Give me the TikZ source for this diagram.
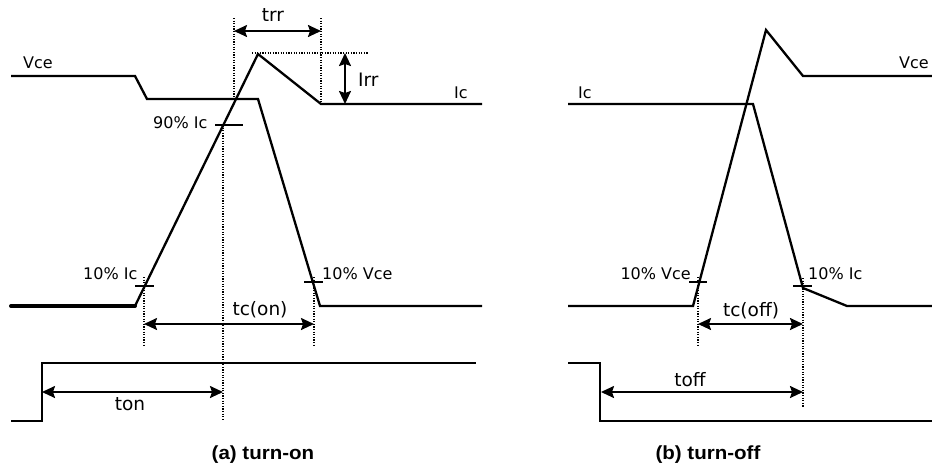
\documentclass[tikz,border=0pt]{standalone}
\usepackage{fontspec}
\setmainfont{DejaVu Sans}
\newfontfamily\capfont[FakeStretch=1.08]{Liberation Sans}
\usetikzlibrary{arrows.meta}
\begin{document}
\begin{tikzpicture}[x=1pt,y=-1pt,line join=miter,
  wave/.style={line width=2.3pt},
  thickwave/.style={line width=4pt,line cap=round},
  guide/.style={line width=1.1pt,dash pattern=on 1.2pt off 1.4pt},
  tickmark/.style={line width=1.3pt},
  dim/.style={line width=2pt,{Stealth[length=13pt,width=12pt,inset=2pt]}-{Stealth[length=13pt,width=12pt,inset=2pt]}},
  lbl/.style={inner sep=0pt,font=\fontsize{16}{19}\selectfont},
  biglbl/.style={inner sep=0pt,font=\fontsize{18.5}{22}\selectfont},
  captionlbl/.style={inner sep=0pt,font=\capfont\fontsize{19}{22}\selectfont\bfseries}]
\useasboundingbox (0,0) rectangle (932,467);

% ===================== (a) turn-on =====================
% Vce waveform
\coordinate (va1) at (11,76);
\coordinate (va2) at (135,76);
\coordinate (va3) at (147,99);
\coordinate (va4) at (258,99);
\coordinate (va5) at (320,306);
\coordinate (va6) at (482,306);
\draw[wave] (va1) -- (va2) -- (va3) -- (va4) -- (va5) -- (va6);
% Ic waveform
\coordinate (ia0) at (11,306);
\coordinate (ia1) at (135,306);
\coordinate (iapk) at (258,54);
\coordinate (ia3) at (321,104);
\coordinate (ia4) at (482,104);
\draw[thickwave] (ia0) -- (ia1);
\draw[wave] (ia1) -- (iapk) -- (ia3) -- (ia4);
% gate
\coordinate (ga0) at (11,421);
\coordinate (ga1) at (42,421);
\coordinate (ga2) at (42,363);
\coordinate (ga3) at (476,363);
\draw[wave] (ga0) -- (ga1) -- (ga2) -- (ga3);

% guides
\coordinate (ta1) at (234,18);  \coordinate (ta1b) at (234,99);
\coordinate (ta2) at (321,18);  \coordinate (ta2b) at (321,104);
\draw[guide] (ta1) -- (ta1b);
\draw[guide] (ta2) -- (ta2b);
\coordinate (pkl) at (252,53); \coordinate (pkr) at (368,53);
\draw[guide] (pkl) -- (pkr);
\coordinate (n90t) at (223,125); \coordinate (n90b) at (223,419);
\draw[guide] (n90t) -- (n90b);
\coordinate (a10t) at (144,277); \coordinate (a10b) at (144,347);
\draw[guide] (a10t) -- (a10b);
\coordinate (v10t) at (314,277); \coordinate (v10b) at (314,347);
\draw[guide] (v10t) -- (v10b);

% tick marks
\coordinate (k90l) at (215,125); \coordinate (k90r) at (243,125);
\draw[tickmark] (k90l) -- (k90r);
\coordinate (k10l) at (135,286); \coordinate (k10r) at (154,286);
\draw[tickmark] (k10l) -- (k10r);
\coordinate (kv10l) at (304,282); \coordinate (kv10r) at (323,282);
\draw[tickmark] (kv10l) -- (kv10r);

% dimension arrows
\coordinate (trrL) at (234,31); \coordinate (trrR) at (321,31);
\draw[dim] (trrL) -- (trrR);
\coordinate (irrT) at (345,53); \coordinate (irrB) at (345,104);
\draw[dim] (irrT) -- (irrB);
\coordinate (tconL) at (144,324); \coordinate (tconR) at (314,324);
\draw[dim] (tconL) -- (tconR);
\coordinate (tonL) at (42,392); \coordinate (tonR) at (223,392);
\draw[dim] (tonL) -- (tonR);

% labels
\node[lbl,anchor=base west] (lvce) at (23,68) {Vce};
\node[lbl,anchor=base west] (lic) at (454,98) {Ic};
\node[lbl,anchor=base west] (l90) at (153,128) {90\% Ic};
\node[lbl,anchor=base west] (l10ic) at (83,279) {10\% Ic};
\node[lbl,anchor=base west] (l10v) at (322,279) {10\% Vce};
\node[biglbl,anchor=base] (ltrr) at (273,21) {trr};
\node[biglbl,anchor=base west] (lirr) at (358,86) {Irr};
\node[biglbl,anchor=base] (ltcon) at (260,315) {tc(on)};
\node[biglbl,anchor=base] (lton) at (130,410) {ton};
\node[captionlbl,anchor=base] (capa) at (263,459) {(a) turn-on};

% ===================== (b) turn-off =====================
% Ic waveform
\coordinate (ib1) at (568,104);
\coordinate (ib2) at (753,104);
\coordinate (ib3) at (803,288);
\coordinate (ib4) at (847,306);
\coordinate (ib5) at (932,306);
\draw[wave] (ib1) -- (ib2) -- (ib3) -- (ib4) -- (ib5);
% Vce waveform
\coordinate (vb0) at (568,306);
\coordinate (vb1) at (693,306);
\coordinate (vbpk) at (766,30);
\coordinate (vb3) at (803,76);
\coordinate (vb4) at (932,76);
\draw[wave] (vb0) -- (vb1) -- (vbpk) -- (vb3) -- (vb4);
% gate
\coordinate (gb0) at (568,363);
\coordinate (gb1) at (600,363);
\coordinate (gb2) at (600,421);
\coordinate (gb3) at (932,421);
\draw[wave] (gb0) -- (gb1) -- (gb2) -- (gb3);

% guides
\coordinate (bv10t) at (698,277); \coordinate (bv10b) at (698,347);
\draw[guide] (bv10t) -- (bv10b);
\coordinate (bi10t) at (803,278); \coordinate (bi10b) at (803,407);
\draw[guide] (bi10t) -- (bi10b);

% ticks
\coordinate (kbvl) at (689,282); \coordinate (kbvr) at (707,282);
\draw[tickmark] (kbvl) -- (kbvr);
\coordinate (kbil) at (793,286); \coordinate (kbir) at (812,286);
\draw[tickmark] (kbil) -- (kbir);

% dimension arrows
\coordinate (tcoffL) at (698,324); \coordinate (tcoffR) at (803,324);
\draw[dim] (tcoffL) -- (tcoffR);
\coordinate (toffL) at (601,392); \coordinate (toffR) at (803,392);
\draw[dim] (toffL) -- (toffR);

% labels
\node[lbl,anchor=base west] (ric) at (578,98) {Ic};
\node[lbl,anchor=base east] (rvce) at (929,68) {Vce};
\node[lbl,anchor=base east] (r10v) at (691,279) {10\% Vce};
\node[lbl,anchor=base west] (r10i) at (808,279) {10\% Ic};
\node[biglbl,anchor=base] (ltcoff) at (751,316) {tc(off)};
\node[biglbl,anchor=base] (ltoff) at (690,386) {toff};
\node[captionlbl,anchor=base] (capb) at (708,459) {(b) turn-off};
\end{tikzpicture}
\end{document}
